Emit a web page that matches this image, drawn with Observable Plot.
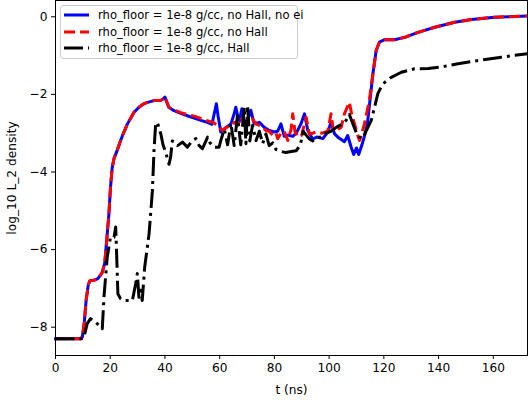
<!DOCTYPE html>
<html>
<head>
<meta charset="utf-8">
<script src="https://cdn.jsdelivr.net/npm/d3@7"></script>
<script src="https://cdn.jsdelivr.net/npm/@observablehq/plot@0.6"></script>
<style>
  body { margin: 0; background: white; }
  #wrap { position: relative; width: 528px; height: 402px; font-family: "DejaVu Sans", sans-serif; }
  #wrap svg text { font-size: 12.2px; font-family: "DejaVu Sans", sans-serif; fill: black; }
  #legend { position: absolute; left: 60px; top: 5px; width: 236px; height: 52px;
    border: 1px solid #cccccc; border-radius: 3px; background: rgba(255,255,255,0.8);
    font-size: 11.6px; color: black; }
  #legend .row { position: absolute; left: 0; height: 16px; display: flex; align-items: center; white-space: nowrap; }
  #legend svg { margin-left: 2px; margin-right: 8px; }
</style>
</head>
<body>
<div id="wrap"></div>
<script>
// ---- data ----
const seriesNames = [
  "rho_floor = 1e-8 g/cc, no Hall, no ei",
  "rho_floor = 1e-8 g/cc, no Hall",
  "rho_floor = 1e-8 g/cc, Hall"
];
const seriesColors = ["#0000ff", "#ff0000", "#000000"];
const seriesDash = [null, "11,5", "19,5,3,5"];

const tBlue = [0, 9.0, 9.8, 10.5, 11.2, 12.0, 12.6, 14.0, 15.5, 17.0, 18.0, 18.9, 19.5, 20.1, 20.7, 21.4, 22.5, 23.8, 25.0, 26.3, 28.7, 30.5, 32.3, 34.0, 36.0, 38.5, 39.3, 40.0, 41.4, 43.3, 45.8, 48.2, 50.7, 53.1, 55.5, 57.2, 58.0, 58.8, 59.4, 60.4, 62.3, 64.1, 65.3, 65.9, 67.1, 68.1, 69.0, 70.2, 71.4, 72.6, 74.5, 76.3, 78.1, 80.0, 81.2, 82.4, 83.6, 84.9, 86.7, 88.0, 89.7, 91.0, 92.2, 94.0, 95.5, 97.7, 99.5, 100.7, 102.0, 103.5, 105.6, 106.8, 108.0, 109.0, 110.0, 110.8, 112.0, 113.0, 114.0, 114.8, 116.0, 117.2, 118.4, 120.3, 123.9, 127.6, 132.5, 138.6, 145.9, 152.0, 160.5, 172.5];
const yBlue = [-8.30, -8.30, -8.26, -7.90, -7.30, -6.90, -6.80, -6.79, -6.75, -6.60, -6.35, -5.60, -5.10, -4.40, -3.90, -3.65, -3.45, -3.19, -2.97, -2.76, -2.46, -2.33, -2.24, -2.20, -2.16, -2.15, -2.12, -2.07, -2.33, -2.42, -2.49, -2.55, -2.61, -2.67, -2.72, -2.77, -2.50, -2.24, -2.55, -2.97, -2.85, -2.76, -2.50, -2.33, -2.72, -2.37, -2.76, -2.67, -2.41, -2.76, -2.72, -2.85, -2.93, -2.97, -2.95, -2.76, -3.08, -3.05, -3.08, -3.00, -2.76, -2.50, -2.93, -3.15, -3.10, -3.14, -2.97, -2.72, -3.02, -3.12, -3.22, -3.06, -3.35, -3.55, -3.38, -3.55, -3.30, -3.05, -2.75, -2.24, -1.47, -0.87, -0.65, -0.59, -0.59, -0.53, -0.40, -0.27, -0.14, -0.07, -0.01, 0.02];

const tRed = [0, 9.0, 9.8, 10.5, 11.2, 12.0, 12.6, 14.0, 15.5, 17.0, 18.0, 18.9, 19.5, 20.1, 20.7, 21.4, 22.5, 23.8, 25.0, 26.3, 28.7, 30.5, 32.3, 34.0, 36.0, 38.5, 39.3, 40.0, 41.4, 43.3, 45.8, 48.2, 50.7, 53.1, 55.5, 57.5, 59.2, 61.0, 62.5, 64.1, 65.3, 66.5, 67.8, 69.0, 70.2, 72.0, 73.2, 74.5, 75.7, 76.9, 78.1, 79.4, 80.6, 81.2, 82.4, 83.6, 84.9, 86.1, 86.7, 87.5, 88.5, 90.0, 91.0, 91.6, 92.8, 94.0, 95.2, 97.5, 99.5, 100.7, 101.6, 103.0, 104.4, 105.6, 106.8, 107.4, 108.2, 109.3, 110.2, 111.1, 112.0, 112.9, 114.0, 114.8, 116.0, 117.2, 118.4, 120.3, 123.9, 127.6, 132.5, 138.6, 145.9, 152.0, 160.5, 172.5];
const yRed = [-8.30, -8.30, -8.26, -7.90, -7.30, -6.90, -6.80, -6.79, -6.75, -6.60, -6.35, -5.60, -5.10, -4.40, -3.90, -3.65, -3.45, -3.19, -2.97, -2.76, -2.46, -2.33, -2.24, -2.20, -2.16, -2.15, -2.12, -2.07, -2.33, -2.40, -2.47, -2.52, -2.56, -2.62, -2.68, -2.72, -2.80, -2.93, -2.85, -2.80, -2.72, -2.80, -2.59, -2.76, -2.70, -2.63, -2.76, -2.80, -2.85, -2.93, -2.95, -3.06, -3.00, -3.14, -3.00, -2.95, -3.19, -2.90, -2.50, -2.95, -3.10, -3.05, -2.75, -2.59, -3.02, -3.00, -2.97, -3.00, -2.95, -2.50, -2.95, -2.90, -2.85, -2.50, -2.30, -2.20, -2.50, -2.76, -3.00, -3.19, -3.00, -2.76, -2.40, -2.10, -1.47, -0.87, -0.65, -0.59, -0.59, -0.53, -0.40, -0.27, -0.14, -0.07, -0.01, 0.02];

const tBlack = [0, 9.5, 10.4, 11.6, 12.8, 14.7, 16.5, 17.1, 17.7, 18.9, 20.1, 21.4, 22.0, 22.3, 22.8, 23.8, 25.6, 28.1, 29.3, 29.9, 30.5, 31.1, 31.7, 32.6, 34.2, 35.4, 36.0, 36.6, 37.2, 38.5, 39.3, 40.3, 41.5, 42.1, 42.7, 44.6, 46.4, 48.2, 50.0, 51.3, 52.5, 53.7, 55.6, 56.5, 58.0, 59.8, 60.4, 61.7, 62.9, 64.1, 65.3, 66.5, 67.7, 69.0, 69.6, 70.2, 71.0, 72.0, 73.3, 74.5, 75.7, 76.9, 78.1, 79.4, 80.6, 82.4, 84.2, 86.1, 88.0, 89.5, 90.5, 91.6, 92.8, 94.0, 95.2, 97.0, 98.8, 100.7, 102.6, 104.4, 106.2, 107.4, 108.7, 110.0, 111.1, 112.3, 113.6, 115.4, 116.6, 117.8, 119.0, 120.3, 122.7, 126.4, 131.2, 136.2, 141.0, 147.1, 153.2, 163.0, 172.5];
const yBlack = [-8.30, -8.30, -8.26, -7.91, -7.78, -7.87, -8.00, -8.04, -7.23, -6.20, -5.68, -5.68, -5.42, -6.02, -7.14, -7.27, -7.31, -7.31, -6.88, -6.62, -7.23, -7.05, -7.31, -6.45, -5.59, -4.50, -3.45, -2.76, -2.72, -3.02, -3.30, -3.50, -3.80, -3.60, -3.20, -3.32, -3.23, -3.36, -3.19, -3.14, -3.32, -3.40, -3.10, -3.25, -3.36, -3.36, -3.19, -2.90, -3.30, -2.75, -3.32, -2.55, -3.30, -2.33, -3.27, -2.29, -3.20, -2.80, -3.19, -2.95, -3.27, -3.02, -3.32, -3.25, -3.42, -3.47, -3.50, -3.47, -3.45, -3.30, -2.95, -3.05, -3.15, -3.20, -3.12, -3.10, -3.00, -2.95, -2.85, -2.78, -2.67, -2.52, -2.76, -3.00, -3.10, -3.14, -2.93, -2.67, -2.33, -1.98, -1.81, -1.69, -1.56, -1.43, -1.34, -1.33, -1.29, -1.21, -1.14, -1.04, -0.95];

const xTicks = [0, 20, 40, 60, 80, 100, 120, 140, 160];
const yTicks = [0, -2, -4, -6, -8];
const xLabel = "t (ns)";
const yLabel = "log_10 L_2 density";

// ---- build ----
const seriesT = [tBlue, tRed, tBlack];
const seriesY = [yBlue, yRed, yBlack];
const rows = [];
seriesT.forEach((ts, s) => ts.forEach((t, i) => rows.push({s, t, v: seriesY[s][i]})));

const fmt = d => d < 0 ? "\u2212" + Math.abs(d) : String(d);

const ordered = [0, 1, 2].map(s => Plot.line(rows.filter(r => r.s === s), {
  x: "t", y: "v", stroke: seriesColors[s], strokeWidth: 3,
  strokeDasharray: seriesDash[s] || undefined,
  strokeLinejoin: "round", strokeLinecap: s === 0 ? "square" : "butt"
}));

const chart = Plot.plot({
  width: 528,
  height: 402,
  marginLeft: 55,
  marginRight: 1,
  marginTop: 0,
  marginBottom: 47,
  style: {fontSize: "12.2px", fontFamily: "DejaVu Sans", color: "black", background: "white", overflow: "visible"},
  x: {domain: [0, 172.5], ticks: xTicks, tickFormat: fmt, tickSize: 4, tickPadding: 4,
      label: xLabel, labelAnchor: "center", labelOffset: 38, labelArrow: "none"},
  y: {domain: [-8.73, 0.42], ticks: yTicks, tickFormat: fmt, tickSize: 4, tickPadding: 4,
      label: yLabel, labelAnchor: "center", labelOffset: 48, labelArrow: "none"},
  marks: [
    ...ordered,
    Plot.frame({stroke: "black", strokeWidth: 1})
  ]
});

const wrap = document.getElementById("wrap");
wrap.appendChild(chart);

// legend (HTML overlay)
const legend = document.createElement("div");
legend.id = "legend";
seriesNames.forEach((name, s) => {
  const row = document.createElement("div");
  row.className = "row";
  row.style.top = (1 + s * 16.7) + "px";
  const dash = seriesDash[s] ? ` stroke-dasharray="${seriesDash[s]}"` : "";
  row.innerHTML = `<svg width="27" height="8"><line x1="1" y1="4" x2="26" y2="4" stroke="${seriesColors[s]}" stroke-width="3"${dash}/></svg><span>${name}</span>`;
  legend.appendChild(row);
});
wrap.appendChild(legend);
</script>
</body>
</html>
